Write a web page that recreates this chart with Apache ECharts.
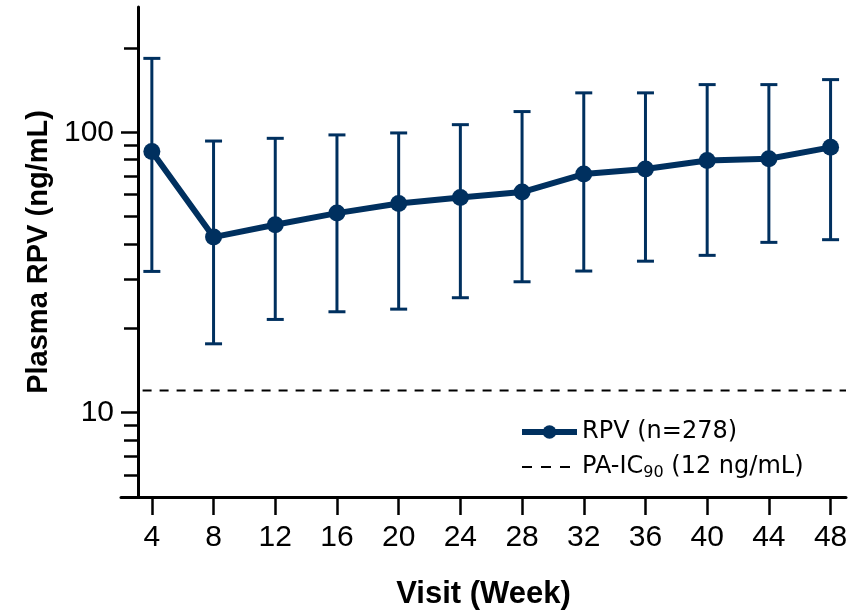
<!DOCTYPE html>
<html>
<head>
<meta charset="utf-8">
<script src="https://cdn.jsdelivr.net/npm/echarts@6/dist/echarts.min.js"></script>
<style>html,body{margin:0;padding:0;background:#fff}#c{width:859px;height:616px}</style>
</head>
<body>
<div id="c"></div>
<script>
const weeks = [4, 8, 12, 16, 20, 24, 28, 32, 36, 40, 44, 48];
const rpvMean = [85.5, 42.3, 46.8, 51.5, 55.7, 58.5, 61.2, 71.0, 74.0, 79.3, 80.5, 88.4];
const rpvLower = [31.9, 17.6, 21.5, 22.9, 23.4, 25.7, 29.3, 32.0, 34.7, 36.4, 40.5, 41.4];
const rpvUpper = [183.6, 93.1, 95.2, 97.9, 99.5, 106.5, 118.6, 138.3, 138.3, 148.0, 148.0, 154.2];
const icValue = 12;
const icSpan = [3.4, 49];
const yMajorTicks = [10, 100];
const yMinorTicks = [5, 6, 7, 8, 9, 20, 30, 40, 50, 60, 70, 80, 90, 200];
const xTicks = weeks;

const navy = '#00305f';
const chart = echarts.init(document.getElementById('c'));

const errData = weeks.map((w, i) => [w, rpvLower[i], rpvUpper[i]]);
const meanData = weeks.map((w, i) => [w, rpvMean[i]]);
const icData = icSpan.map(x => [x, icValue]);

chart.setOption({
  animation: false,
  grid: { left: 121, right: 13, top: 7, bottom: 119 },
  xAxis: {
    type: 'value', min: 2, max: 49,
    name: 'Visit (Week)', nameLocation: 'middle', nameGap: 82,
    nameTextStyle: { fontFamily: 'Liberation Sans', fontWeight: 'bold', fontSize: 31, color: '#000' },
    axisLine: { lineStyle: { color: '#000', width: 3 } },
    axisTick: { customValues: xTicks, length: 18, lineStyle: { color: '#000', width: 2.5 } },
    axisLabel: { customValues: xTicks, margin: 26, fontFamily: 'Liberation Sans', fontSize: 30, color: '#000' },
    splitLine: { show: false }
  },
  yAxis: [{
    type: 'log', logBase: 10, min: 5, max: 280, offset: -17,
    name: 'Plasma RPV (ng/mL)', nameLocation: 'middle', nameGap: 85, nameRotate: 90,
    nameTextStyle: { fontFamily: 'Liberation Sans', fontWeight: 'bold', fontSize: 29, color: '#000' },
    axisLine: { show: true, lineStyle: { color: '#000', width: 3 } },
    axisTick: { show: true, customValues: yMajorTicks, length: 17, lineStyle: { color: '#000', width: 2.5 } },
    axisLabel: { customValues: yMajorTicks, margin: 24, fontFamily: 'Liberation Sans', fontSize: 30, color: '#000' },
    splitLine: { show: false }
  }, {
    type: 'log', logBase: 10, min: 5, max: 280, offset: -17, position: 'left',
    axisLine: { show: false },
    axisTick: { show: true, customValues: yMinorTicks, length: 14, lineStyle: { color: '#000', width: 2.5 } },
    axisLabel: { show: false },
    splitLine: { show: false }
  }],
  legend: {
    orient: 'vertical', left: 519, top: 420, padding: 0, itemWidth: 55, itemHeight: 17, itemGap: 9,
    data: [
      { name: 'RPV (n=278)', lineStyle: { width: 6 } },
      { name: 'PA-IC90 (12 ng/mL)', lineStyle: { width: 2, type: [10, 9] }, itemStyle: { opacity: 0 } }
    ],
    formatter: function (name) {
      return name === 'PA-IC90 (12 ng/mL)' ? 'PA-IC{sub|90} (12 ng/mL)' : name;
    },
    textStyle: {
      fontFamily: 'DejaVu Sans', fontSize: 24, color: '#000', lineHeight: 24,
      rich: { sub: { fontFamily: 'DejaVu Sans', fontSize: 16, lineHeight: 24, padding: [12, 0, 0, 0], color: '#000' } }
    }
  },
  series: [{
    type: 'custom', name: 'errbars', xAxisIndex: 0, yAxisIndex: 0, z: 2,
    data: errData,
    renderItem: function (params, api) {
      const x = api.value(0);
      const lo = api.coord([x, api.value(1)]);
      const hi = api.coord([x, api.value(2)]);
      const hw = 8.5;
      const st = { stroke: navy, lineWidth: 3, fill: null };
      return { type: 'group', children: [
        { type: 'line', shape: { x1: lo[0], y1: lo[1], x2: hi[0], y2: hi[1] }, style: st },
        { type: 'line', shape: { x1: lo[0] - hw, y1: lo[1], x2: lo[0] + hw, y2: lo[1] }, style: st },
        { type: 'line', shape: { x1: hi[0] - hw, y1: hi[1], x2: hi[0] + hw, y2: hi[1] }, style: st }
      ]};
    }
  }, {
    type: 'line', name: 'RPV (n=278)', data: meanData, z: 3,
    symbol: 'circle', symbolSize: 17,
    itemStyle: { color: navy },
    lineStyle: { color: navy, width: 6 }
  }, {
    type: 'line', name: 'PA-IC90 (12 ng/mL)', data: icData, z: 1,
    symbol: 'none',
    itemStyle: { color: '#000' },
    lineStyle: { color: '#000', width: 2, type: [9, 8] }
  }]
});
</script>
</body>
</html>
